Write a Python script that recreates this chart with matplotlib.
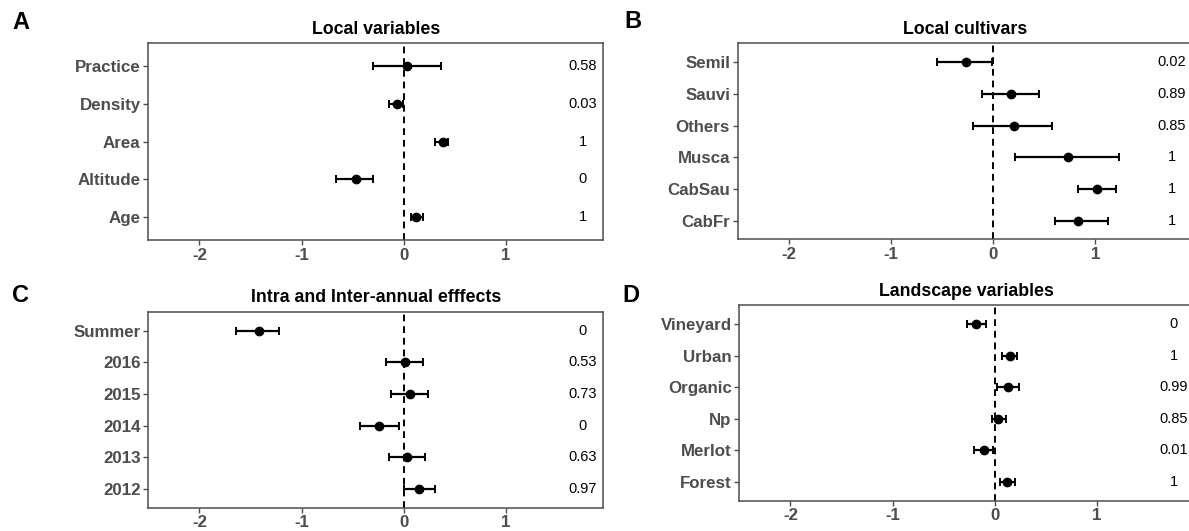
import numpy as np
import matplotlib
matplotlib.use("Agg")
import matplotlib.pyplot as plt

plt.rcParams['font.family'] = ['Liberation Sans', 'DejaVu Sans']

# panel A - local variables (top to bottom)
local_vars = ["Practice", "Density", "Area", "Altitude", "Age"]
local_est = [0.03, -0.07, 0.38, -0.47, 0.12]
local_lo = [-0.30, -0.14, 0.31, -0.66, 0.07]
local_hi = [0.36, -0.01, 0.43, -0.30, 0.19]
local_p = ["0.58", "0.03", "1", "0", "1"]

# panel B - local cultivars
cult_vars = ["Semil", "Sauvi", "Others", "Musca", "CabSau", "CabFr"]
cult_est = [-0.27, 0.17, 0.20, 0.73, 1.02, 0.83]
cult_lo = [-0.55, -0.11, -0.20, 0.21, 0.83, 0.61]
cult_hi = [-0.01, 0.45, 0.58, 1.23, 1.20, 1.12]
cult_p = ["0.02", "0.89", "0.85", "1", "1", "1"]

# panel C - intra and inter-annual effects
year_vars = ["Summer", "2016", "2015", "2014", "2013", "2012"]
year_est = [-1.42, 0.01, 0.06, -0.24, 0.03, 0.15]
year_lo = [-1.64, -0.17, -0.12, -0.43, -0.14, 0.00]
year_hi = [-1.22, 0.19, 0.24, -0.05, 0.21, 0.31]
year_p = ["0", "0.53", "0.73", "0", "0.63", "0.97"]

# panel D - landscape variables
land_vars = ["Vineyard", "Urban", "Organic", "Np", "Merlot", "Forest"]
land_est = [-0.18, 0.15, 0.13, 0.03, -0.11, 0.12]
land_lo = [-0.27, 0.07, 0.02, -0.03, -0.20, 0.05]
land_hi = [-0.09, 0.22, 0.24, 0.11, -0.02, 0.20]
land_p = ["0", "1", "0.99", "0.85", "0.01", "1"]

W, H = 1189, 531
fig = plt.figure(figsize=(W / 100, H / 100), dpi=100)


def px_axes(left, top, right, bottom):
    return fig.add_axes([left / W, 1 - bottom / H, (right - left) / W, (bottom - top) / H])


def forest(ax, title, names, est, lo, hi, pvals):
    n = len(names)
    y = np.arange(n, 0, -1)
    est = np.array(est)
    xerr = [est - np.array(lo), np.array(hi) - est]
    ax.axvline(0, color="black", linestyle=(0, (3.5, 2.5)), linewidth=1.4, zorder=1)
    ax.errorbar(est, y, xerr=xerr, fmt="o", color="black", ms=6,
                elinewidth=1.6, capsize=3, capthick=1.4, zorder=3)
    for yi, p in zip(y, pvals):
        ax.text(1.75, yi, p, ha="center", va="center", fontsize=10.5, color="black")
    ax.set_xlim(-2.5, 1.95)
    ax.set_ylim(0.4, n + 0.6)
    ax.set_yticks(y)
    ax.set_yticklabels(names)
    ax.set_xticks([-2, -1, 0, 1])
    ax.set_xticklabels(["-2", "-1", "0", "1"])
    for lab in ax.get_yticklabels() + ax.get_xticklabels():
        lab.set_fontweight("bold")
        lab.set_fontsize(12.2)
        lab.set_color("#4D4D4D")
    ax.tick_params(axis="both", length=3.5, width=1, color="#4D4D4D", pad=2)
    for sp in ax.spines.values():
        sp.set_color("#4D4D4D")
        sp.set_linewidth(1.1)
    ax.set_title(title, fontsize=12.8, fontweight="bold", pad=7)


axA = px_axes(148.3, 43.3, 603, 240)
axB = px_axes(737.7, 43.3, 1192.4, 239.5)
axC = px_axes(148.3, 311.7, 603, 507.7)
axD = px_axes(739.3, 305.3, 1194, 500.7)

forest(axA, "Local variables", local_vars, local_est, local_lo, local_hi, local_p)
forest(axB, "Local cultivars", cult_vars, cult_est, cult_lo, cult_hi, cult_p)
forest(axC, "Intra and Inter-annual efffects", year_vars, year_est, year_lo, year_hi, year_p)
forest(axD, "Landscape variables", land_vars, land_est, land_lo, land_hi, land_p)

# panel letters
for letter, (lx, ly) in zip("ABCD", [(20.5, 22.5), (633, 21), (20.5, 296), (631, 295)]):
    fig.text(lx / W, 1 - ly / H, letter, fontsize=17, fontweight="bold",
             ha="center", va="center")

fig.savefig("out.png", dpi=100)
